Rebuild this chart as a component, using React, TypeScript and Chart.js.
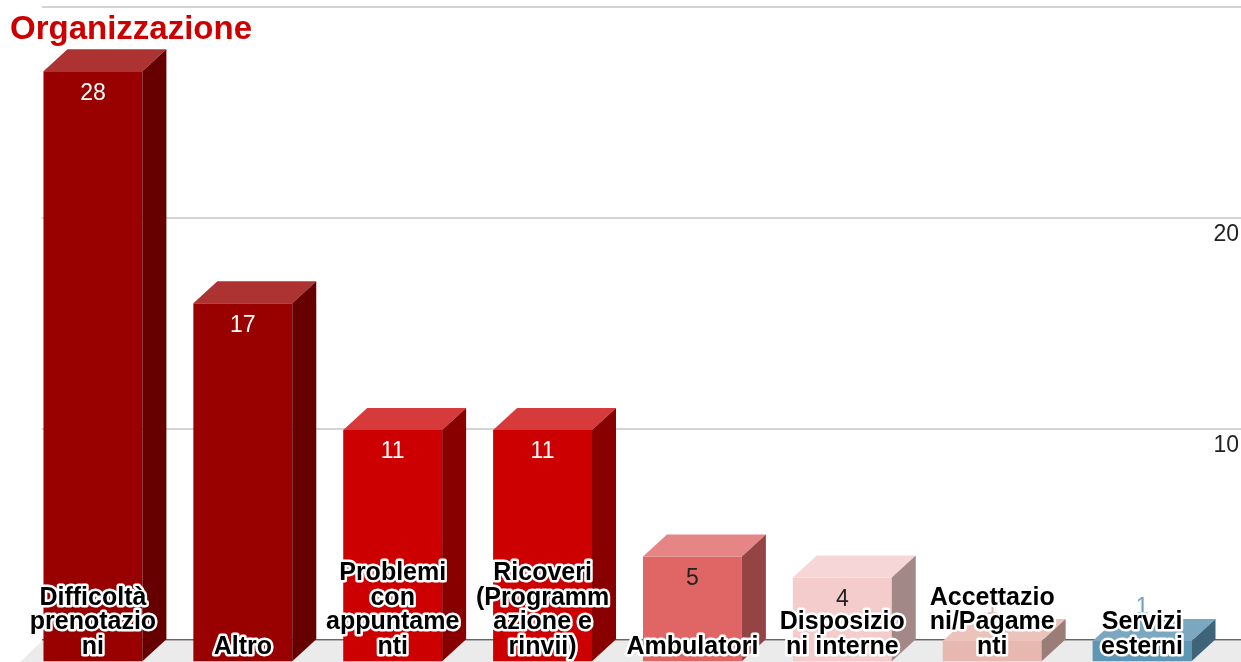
import React, { useEffect, useRef } from "react";
import { Chart, registerables } from "chart.js";

Chart.register(...registerables);

const TITLE = "Organizzazione";
const CATEGORY_LINES: string[][] = [
  ["Difficoltà", "prenotazio", "ni"],
  ["Altro"],
  ["Problemi", "con", "appuntame", "nti"],
  ["Ricoveri", "(Programm", "azione e", "rinvii)"],
  ["Ambulatori"],
  ["Disposizio", "ni interne"],
  ["Accettazio", "ni/Pagame", "nti"],
  ["Servizi", "esterni"],
];
const VALUES = [28, 17, 11, 11, 5, 4, 1, 1];
const Y_TICKS = [10, 20];

const FRONT_COLORS = ["#990000", "#990000", "#cc0000", "#cc0000", "#e06666", "#f4cccc", "#e6b8af", "#5e97b5"];
const TOP_COLORS = ["#ad3333", "#ad3333", "#d63a3a", "#d63a3a", "#e68585", "#f6d6d6", "#ebc3bb", "#7ba7c0"];
const SIDE_COLORS = ["#660000", "#660000", "#880000", "#880000", "#954444", "#a38888", "#9b7d77", "#3d6479"];
const VALUE_LABEL_COLORS = ["#ffffff", "#ffffff", "#ffffff", "#ffffff", "#222222", "#222222", "#e6b8af", "#6fa0bf"];

const DX = 24;
const DY = 22;
const FONT = "'Liberation Sans', Arial, sans-serif";

const bar3dPlugin = {
  id: "bar3d",
  beforeDatasetsDraw(chart: any) {
    const { ctx, chartArea } = chart;
    const yScale = chart.scales.y;
    const base = yScale.getPixelForValue(0);
    ctx.save();
    ctx.fillStyle = "#ebebeb";
    ctx.beginPath();
    ctx.moveTo(chartArea.left, base + 1);
    ctx.lineTo(chart.width, base + 1);
    ctx.lineTo(chart.width, base + DY + 2);
    ctx.lineTo(chartArea.left - DX, base + DY + 2);
    ctx.closePath();
    ctx.fill();
    ctx.restore();
  },
  afterDatasetsDraw(chart: any) {
    const { ctx } = chart;
    const meta = chart.getDatasetMeta(0);
    ctx.save();
    const fronts: any[] = [];
    meta.data.forEach((el: any, i: number) => {
      const { x, y, base, width } = el.getProps(["x", "y", "base", "width"], true);
      const fl = x - width / 2 - DX;
      const fr = x + width / 2 - DX;
      const ft = y + DY;
      const fb = base + DY;
      fronts.push({ cx: (fl + fr) / 2, ft, fb, top: y });
      ctx.fillStyle = FRONT_COLORS[i];
      ctx.fillRect(fl, ft, fr - fl, fb - ft);
      ctx.fillStyle = TOP_COLORS[i];
      ctx.beginPath();
      ctx.moveTo(fl, ft);
      ctx.lineTo(fr, ft);
      ctx.lineTo(fr + DX, ft - DY);
      ctx.lineTo(fl + DX, ft - DY);
      ctx.closePath();
      ctx.fill();
      ctx.fillStyle = SIDE_COLORS[i];
      ctx.beginPath();
      ctx.moveTo(fr, ft);
      ctx.lineTo(fr + DX, ft - DY);
      ctx.lineTo(fr + DX, fb - DY);
      ctx.lineTo(fr, fb);
      ctx.closePath();
      ctx.fill();
    });

    // value labels
    ctx.font = `23px ${FONT}`;
    ctx.textAlign = "center";
    ctx.textBaseline = "middle";
    fronts.forEach((f, i) => {
      const inside = f.fb - f.ft > 40;
      const ly = inside ? f.ft + 22 : f.top - 11;
      ctx.fillStyle = VALUE_LABEL_COLORS[i];
      ctx.fillText(String(VALUES[i]), f.cx, ly);
    });

    // category labels
    ctx.font = `bold 25px ${FONT}`;
    ctx.lineJoin = "round";
    const lineH = 24.5;
    const lastY = 647;
    fronts.forEach((f, i) => {
      const lines = CATEGORY_LINES[i];
      lines.forEach((ln, j) => {
        const ly = lastY - (lines.length - 1 - j) * lineH;
        ctx.strokeStyle = "#ffffff";
        ctx.lineWidth = 5;
        ctx.strokeText(ln, f.cx, ly);
      });
      lines.forEach((ln, j) => {
        const ly = lastY - (lines.length - 1 - j) * lineH;
        ctx.fillStyle = "#000000";
        ctx.fillText(ln, f.cx, ly);
      });
    });
    ctx.restore();
  },
  afterDraw(chart: any) {
    const { ctx } = chart;
    ctx.save();
    ctx.font = `bold 33px ${FONT}`;
    ctx.fillStyle = "#cc0000";
    ctx.textAlign = "left";
    ctx.textBaseline = "middle";
    ctx.fillText(TITLE, 10, 30);
    ctx.restore();
  },
};

export default function App() {
  const ref = useRef<HTMLCanvasElement | null>(null);
  useEffect(() => {
    document.body.style.margin = "0";
    const canvas = ref.current!;
    const chart = new Chart(canvas, {
      type: "bar",
      data: {
        labels: CATEGORY_LINES.map((l) => l.join(" ")),
        datasets: [
          {
            data: VALUES,
            backgroundColor: "rgba(0,0,0,0)",
            borderWidth: 0,
            categoryPercentage: 1,
            barPercentage: 0.66,
          },
        ],
      },
      options: {
        animation: false,
        responsive: false,
        layout: { padding: { left: 42, top: 7, bottom: 22, right: 0 } },
        plugins: { legend: { display: false }, tooltip: { enabled: false }, title: { display: false } },
        scales: {
          x: { display: false, offset: true },
          y: {
            position: "right",
            min: 0,
            max: 30,
            afterBuildTicks: (scale: any) => {
              scale.ticks = [0, ...Y_TICKS, 30].map((v) => ({ value: v }));
            },
            afterFit: (scale: any) => {
              scale.paddingTop = 0;
              scale.paddingBottom = 0;
              scale.width = 0;
            },
            ticks: {
              mirror: true,
              padding: -2,
              labelOffset: 17,
              color: "#222222",
              font: { size: 23, family: FONT },
              callback: (v: any) => (Y_TICKS.includes(Number(v)) ? String(v) : ""),
            },
            grid: {
              drawTicks: false,
              color: (c: any) => (c.tick && c.tick.value === 0 ? "#666666" : "#d3d3d3"),
              lineWidth: (c: any) => (c.tick && c.tick.value === 0 ? 1.5 : 2),
            },
            border: { display: false },
          },
        },
      },
      plugins: [bar3dPlugin],
    });
    return () => chart.destroy();
  }, []);
  return (
    <div style={{ width: 1241, height: 662, overflow: "hidden" }}>
      <canvas ref={ref} width={1241} height={662} style={{ display: "block" }} />
    </div>
  );
}
